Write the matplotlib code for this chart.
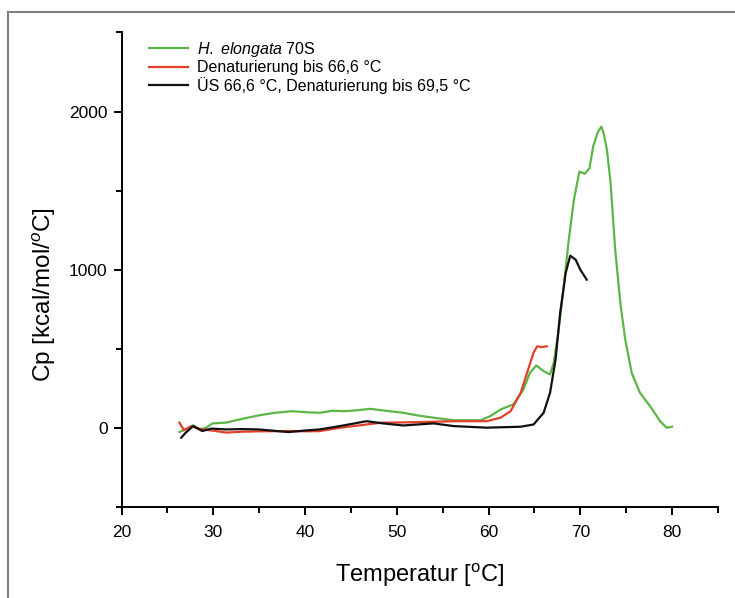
import matplotlib
matplotlib.use('Agg')
import matplotlib.pyplot as plt
from matplotlib.lines import Line2D
from matplotlib.ticker import MultipleLocator

plt.rcParams['font.family'] = ['Liberation Sans', 'DejaVu Sans']
plt.rcParams['mathtext.fontset'] = 'custom'
plt.rcParams['mathtext.rm'] = 'Liberation Sans'
plt.rcParams['mathtext.it'] = 'Liberation Sans:italic'

# H. elongata 70S
green_t = [26.3, 26.9, 27.8, 28.5, 29.2, 29.9, 31.4, 33.1, 34.9, 36.7, 38.6, 40.3,
           41.6, 43.0, 44.2, 45.5, 47.1, 48.2, 49.5, 50.7, 52.3, 54.0, 56.2, 59.1,
           60.2, 61.3, 62.7, 63.8, 64.5, 65.2, 66.0, 66.7, 67.1, 67.6, 68.2, 68.7,
           69.3, 69.9, 70.5, 71.0, 71.4, 71.9, 72.3, 72.6, 72.9, 73.3, 73.8, 74.4,
           74.9, 75.6, 76.5, 77.6, 78.7, 79.4, 80.0]
green_cp = [-25, -10, 18, -8, 2, 30, 35, 58, 80, 97, 107, 100,
            97, 110, 107, 112, 122, 114, 105, 97, 80, 66, 50, 50,
            76, 118, 150, 244, 349, 396, 360, 339, 413, 602, 896, 1170,
            1443, 1621, 1607, 1643, 1779, 1870, 1905, 1850, 1758, 1548, 1127, 770,
            560, 349, 223, 139, 44, 3, 9]

# Denaturierung bis 66,6 °C
red_t = [26.3, 26.8, 27.6, 28.4, 29.2, 30.2, 31.4, 33.0, 35.0, 38.5, 40.0, 41.6,
         43.5, 45.3, 48.2, 52.5, 56.2, 59.8, 61.3, 62.4, 63.5, 64.2, 64.9, 65.3,
         65.8, 66.35]
red_cp = [35, -12, 12, -3, -10, -18, -28, -23, -20, -18, -20, -19,
          0, 13, 34, 38, 44, 44, 66, 107, 223, 350, 476, 517,
          512, 517]

# ÜS 66,6 °C, Denaturierung bis 69,5 °C
black_t = [26.5, 27.0, 27.8, 28.8, 29.8, 31.4, 33.0, 34.9, 36.5, 38.2, 40.0, 41.6,
           43.8, 46.7, 48.5, 50.7, 54.0, 56.2, 59.8, 63.5, 64.9, 66.0, 66.7, 67.3,
           67.8, 68.4, 68.9, 69.5, 70.0, 70.7]
black_cp = [-60, -28, 13, -18, -3, -8, -6, -8, -16, -25, -15, -8,
            13, 44, 30, 17, 30, 13, 3, 9, 23, 97, 223, 433,
            728, 980, 1090, 1064, 1001, 938]

fig = plt.figure(figsize=(7.35, 5.98), dpi=100)
ax = fig.add_axes([0.1654, 0.1517, 0.8114, 0.794])

ax.plot(green_t, green_cp, color='#5cb547', lw=1.6, label=r'$\it{H.\ elongata}$ 70S')
ax.plot(red_t, red_cp, color='#e3402a', lw=1.6, label='Denaturierung bis 66,6 °C')
ax.plot(black_t, black_cp, color='#111111', lw=1.6,
        label='ÜS 66,6 °C, Denaturierung bis 69,5 °C')

ax.set_xlim(20, 85)
ax.set_ylim(-500, 2500)
ax.xaxis.set_major_locator(MultipleLocator(10))
ax.xaxis.set_minor_locator(MultipleLocator(5))
ax.yaxis.set_major_locator(MultipleLocator(1000))
ax.yaxis.set_minor_locator(MultipleLocator(500))
ax.set_xticks([20, 30, 40, 50, 60, 70, 80])
ax.tick_params(which='major', direction='out', length=6, width=1.4, labelsize=12.5)
ax.tick_params(which='minor', direction='out', length=4, width=1.4)
ax.tick_params(axis='x', pad=7)
ax.tick_params(axis='y', pad=4)
for s in ['top', 'right']:
    ax.spines[s].set_visible(False)
for s in ['left', 'bottom']:
    ax.spines[s].set_linewidth(1.4)

ax.set_xlabel(r'Temperatur [$^{\rm o}$C]', fontsize=17)
ax.set_ylabel(r'Cp [kcal/mol/$^{\it o}$C]', fontsize=17.5)
ax.xaxis.set_label_coords(0.5, -0.115)
ax.yaxis.set_label_coords(-0.106, 0.449)

ax.legend(loc='upper left', frameon=False, fontsize=11.5, handlelength=2.4,
          handletextpad=0.55, borderaxespad=0.6, labelspacing=0.1,
          bbox_to_anchor=(0.02, 1.018))

# frame lines of the original picture
fig.add_artist(Line2D([0.011, 1.0], [0.98, 0.98], color='#808080', lw=1.5))
fig.add_artist(Line2D([0.011, 0.011], [0.0, 0.98], color='#808080', lw=1.5))

fig.savefig('out.png', dpi=100)
